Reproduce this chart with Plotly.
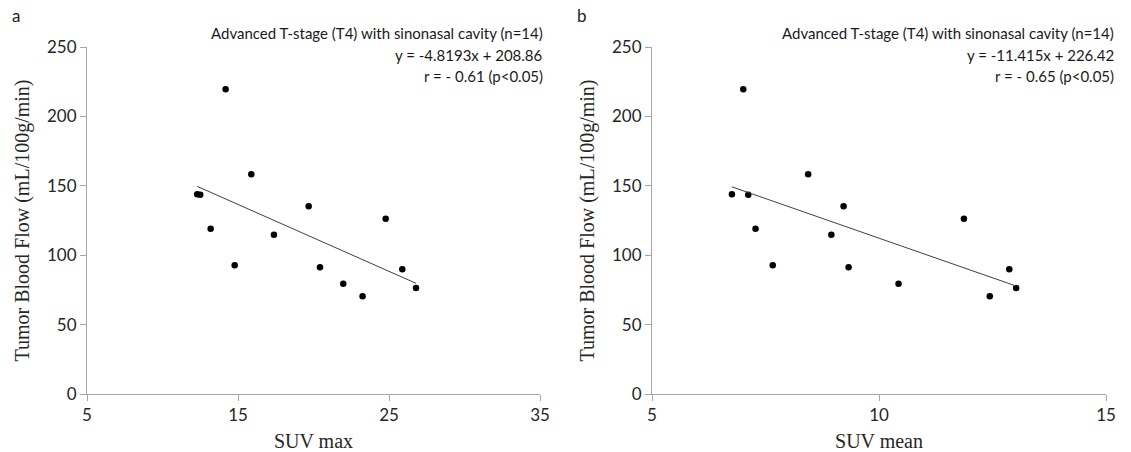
import plotly.graph_objects as go

# Data
tbf = [219.5, 158.3, 143.9, 143.5, 135.2, 126.2, 119.0, 114.8, 92.7, 91.3, 79.4, 70.5, 89.8, 76.3]
suv_max = [14.18, 15.88, 12.30, 12.50, 19.68, 24.78, 13.19, 17.38, 14.78, 20.43, 21.97, 23.25, 25.88, 26.79]
suv_mean = [7.01, 8.44, 6.76, 7.12, 9.22, 11.87, 7.28, 8.95, 7.66, 9.33, 10.43, 12.44, 12.87, 13.02]

slope_a, intercept_a = -4.8193, 208.86
slope_b, intercept_b = -11.415, 226.42

xticks_a = [5, 15, 25, 35]
xticks_b = [5, 10, 15]
yticks = [0, 50, 100, 150, 200, 250]

label_text_a = ["Advanced T-stage (T4) with sinonasal cavity (n=14)",
                "y = -4.8193x + 208.86", "r = - 0.61 (p<0.05)"]
label_text_b = ["Advanced T-stage (T4) with sinonasal cavity (n=14)",
                "y = -11.415x + 226.42", "r = - 0.65 (p<0.05)"]

W, H = 1131, 452
ML, MT = 87, 47
MR = W - 1106
MB = H - 394
PW = W - ML - MR
PH = H - MT - MB

def px_x(page_x):
    return (page_x - ML) / PW

def px_y(page_y):
    return 1 - (page_y - MT) / PH

fig = go.Figure()

def add_panel(xs, xref, yref, slope, intercept):
    fig.add_trace(go.Scatter(x=xs, y=tbf, mode="markers",
                             marker=dict(color="black", size=6.5),
                             xaxis=xref, yaxis=yref, showlegend=False))
    x0, x1 = min(xs), max(xs)
    fig.add_trace(go.Scatter(x=[x0, x1], y=[slope * x0 + intercept, slope * x1 + intercept],
                             mode="lines", line=dict(color="#404040", width=1),
                             xaxis=xref, yaxis=yref, showlegend=False))

add_panel(suv_max, "x", "y", slope_a, intercept_a)
add_panel(suv_mean, "x2", "y2", slope_b, intercept_b)

axis_common = dict(showgrid=False, zeroline=False, showline=True, linecolor="#a6a6a6",
                   linewidth=1, ticks="outside", tickcolor="#a6a6a6", ticklen=6,
                   automargin=False,
                   tickfont=dict(family="Lato, Open Sans, sans-serif", size=17, color="#262626"))
title_font = dict(family="Liberation Serif, Times New Roman, serif", size=20, color="#262626")

fig.update_layout(
    width=W, height=H, margin=dict(l=ML, r=MR, t=MT, b=MB, autoexpand=False),
    paper_bgcolor="white", plot_bgcolor="white",
    xaxis=dict(domain=[0, px_x(540)], range=[5, 35], tickvals=xticks_a,
               title=dict(text="SUV max", font=title_font, standoff=12), **axis_common),
    yaxis=dict(domain=[0, 1], range=[0, 250], tickvals=yticks,
               title=dict(text="Tumor Blood Flow (mL/100g/min)", font=title_font, standoff=12), **axis_common),
    xaxis2=dict(domain=[px_x(652), 1], range=[5, 15], tickvals=xticks_b, anchor="y2",
                title=dict(text="SUV mean", font=title_font, standoff=12), **axis_common),
    yaxis2=dict(domain=[0, 1], range=[0, 250], tickvals=yticks, anchor="x2",
                title=dict(text="Tumor Blood Flow (mL/100g/min)", font=title_font, standoff=12), **axis_common),
)

ann_font = dict(family="Lato, Open Sans, sans-serif", size=15, color="#1a1a1a")

def add_labels(lines, right_px):
    for i, t in enumerate(lines):
        ypx = 33 + i * 21.5
        fig.add_annotation(text=t, xref="paper", yref="paper",
                           x=px_x(right_px), y=px_y(ypx),
                           xanchor="right", yanchor="middle", showarrow=False, font=ann_font)

add_labels(label_text_a, 545)
add_labels(label_text_b, 1116)

for letter, px in [("a", 16), ("b", 582)]:
    fig.add_annotation(text=letter, xref="paper", yref="paper",
                       x=px_x(px), y=px_y(16),
                       xanchor="center", yanchor="middle", showarrow=False,
                       font=dict(family="Lato, Open Sans, sans-serif", size=17, color="#1a1a1a"))

fig.write_html("out.html", config={"displayModeBar": False},
               post_script="document.body.style.margin='0px';")
